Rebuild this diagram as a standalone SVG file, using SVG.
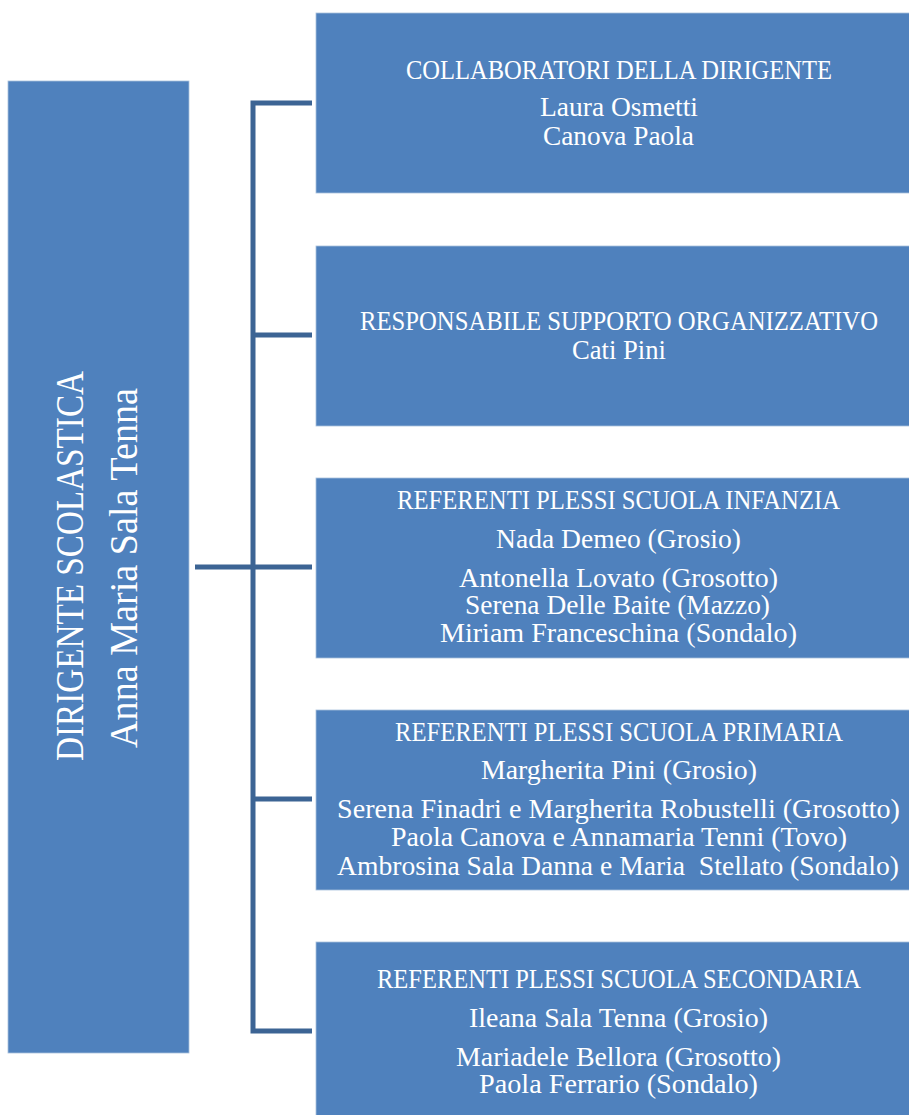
<svg xmlns="http://www.w3.org/2000/svg" width="909" height="1115" viewBox="0 0 909 1115">
<style>
.box{fill:#4F81BD;stroke:#A9C0DD;stroke-width:0.8}
.t{fill:#FFFFFF;font-family:"Liberation Serif","DejaVu Serif",serif;font-size:26.5px;text-anchor:middle}
.big{font-size:39px}
.conn{fill:none;stroke:#3C6494;stroke-width:5;stroke-linejoin:miter;stroke-linecap:butt}
</style>
<rect width="909" height="1115" fill="#FFFFFF"/>
<g id="connectors">
<path class="conn" d="M312,103 H253 V1031 H312"/>
<path class="conn" d="M195,567 H312"/>
<path class="conn" d="M253,335 H312"/>
<path class="conn" d="M253,799 H312"/>
</g>
<g id="dirigente">
<rect class="box" x="8" y="81" width="181" height="972"/>
<text class="t big" transform="translate(83,566) rotate(-90)" x="0" y="0" textLength="390" lengthAdjust="spacingAndGlyphs">DIRIGENTE SCOLASTICA</text>
<text class="t big" transform="translate(137,568) rotate(-90)" x="0" y="0" textLength="360" lengthAdjust="spacingAndGlyphs">Anna Maria Sala Tenna</text>
</g>
<g id="collaboratori">
<rect class="box" x="316" y="13" width="605" height="180"/>
<text class="t" x="619" y="78.5" textLength="426" lengthAdjust="spacingAndGlyphs">COLLABORATORI DELLA DIRIGENTE</text>
<text class="t" x="619" y="116" textLength="158" lengthAdjust="spacingAndGlyphs">Laura Osmetti</text>
<text class="t" x="618.5" y="145" textLength="151" lengthAdjust="spacingAndGlyphs">Canova Paola</text>
</g>
<g id="responsabile">
<rect class="box" x="316" y="246" width="605" height="180"/>
<text class="t" x="619" y="330" textLength="518" lengthAdjust="spacingAndGlyphs">RESPONSABILE SUPPORTO ORGANIZZATIVO</text>
<text class="t" x="619" y="359" textLength="94" lengthAdjust="spacingAndGlyphs">Cati Pini</text>
</g>
<g id="infanzia">
<rect class="box" x="316" y="478" width="605" height="180"/>
<text class="t" x="618.5" y="509" textLength="443" lengthAdjust="spacingAndGlyphs">REFERENTI PLESSI SCUOLA INFANZIA</text>
<text class="t" x="618.5" y="548" textLength="245" lengthAdjust="spacingAndGlyphs">Nada Demeo (Grosio)</text>
<text class="t" x="618.5" y="586.5" textLength="319" lengthAdjust="spacingAndGlyphs">Antonella Lovato (Grosotto)</text>
<text class="t" x="617.5" y="614" textLength="305" lengthAdjust="spacingAndGlyphs">Serena Delle Baite (Mazzo)</text>
<text class="t" x="618.5" y="641.5" textLength="357" lengthAdjust="spacingAndGlyphs">Miriam Franceschina (Sondalo)</text>
</g>
<g id="primaria">
<rect class="box" x="316" y="710" width="605" height="180"/>
<text class="t" x="619" y="740.5" textLength="448" lengthAdjust="spacingAndGlyphs">REFERENTI PLESSI SCUOLA PRIMARIA</text>
<text class="t" x="619" y="779" textLength="276" lengthAdjust="spacingAndGlyphs">Margherita Pini (Grosio)</text>
<text class="t" x="618.5" y="818" textLength="563" lengthAdjust="spacingAndGlyphs">Serena Finadri e Margherita Robustelli (Grosotto)</text>
<text class="t" x="619" y="846" textLength="456" lengthAdjust="spacingAndGlyphs">Paola Canova e Annamaria Tenni (Tovo)</text>
<text class="t" x="618" y="875" textLength="562" lengthAdjust="spacingAndGlyphs" xml:space="preserve" style="white-space:pre">Ambrosina Sala Danna e Maria  Stellato (Sondalo)</text>
</g>
<g id="secondaria">
<rect class="box" x="316" y="942" width="605" height="190"/>
<text class="t" x="619" y="987.5" textLength="484" lengthAdjust="spacingAndGlyphs">REFERENTI PLESSI SCUOLA SECONDARIA</text>
<text class="t" x="618.5" y="1026.5" textLength="299" lengthAdjust="spacingAndGlyphs">Ileana Sala Tenna (Grosio)</text>
<text class="t" x="618.5" y="1065.5" textLength="325" lengthAdjust="spacingAndGlyphs">Mariadele Bellora (Grosotto)</text>
<text class="t" x="618.5" y="1092.5" textLength="279" lengthAdjust="spacingAndGlyphs">Paola Ferrario (Sondalo)</text>
</g>
</svg>
